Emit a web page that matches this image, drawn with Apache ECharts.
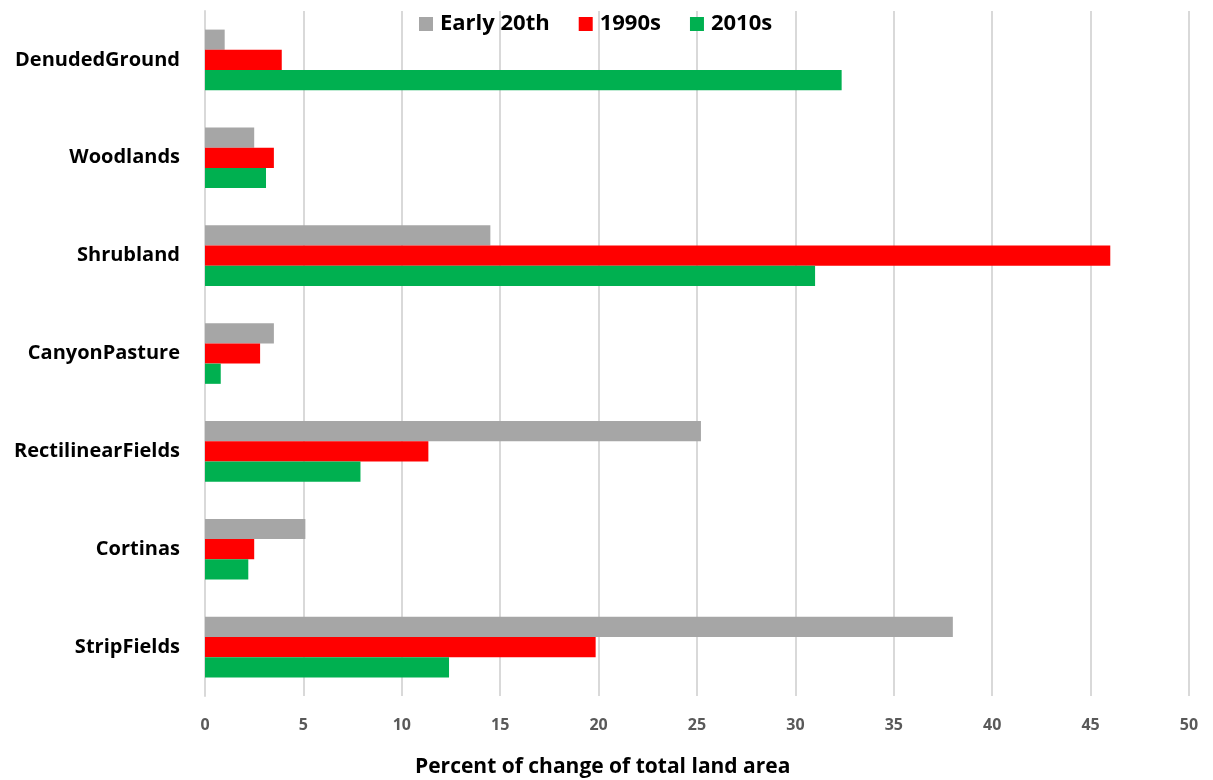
<!DOCTYPE html>
<html>
<head>
<meta charset="utf-8">
<script src="https://cdn.jsdelivr.net/npm/echarts@6/dist/echarts.min.js"></script>
<style>
  html, body { margin: 0; padding: 0; background: #fff; }
  #chart { width: 1213px; height: 780px; }
</style>
</head>
<body>
<div id="chart"></div>
<script>
// Land-cover classes, listed top to bottom
const categories = ['DenudedGround', 'Woodlands', 'Shrubland', 'CanyonPasture', 'RectilinearFields', 'Cortinas', 'StripFields'];
const early20th = [1.0, 2.5, 14.5, 3.5, 25.2, 5.1, 38.0];
const s1990s   = [3.9, 3.5, 46.0, 2.8, 11.35, 2.5, 19.85];
const s2010s   = [32.35, 3.1, 31.0, 0.8, 7.9, 2.2, 12.4];
const xTicks = [0, 5, 10, 15, 20, 25, 30, 35, 40, 45, 50];
const xTitle = 'Percent of change of total land area';

const font = '"Open Sans", Lato, sans-serif';

const chart = echarts.init(document.getElementById('chart'), null, { renderer: 'canvas' });

function barSeries(name, data, color) {
  return {
    name: name,
    type: 'bar',
    data: data,
    barGap: '0%',
    barCategoryGap: '38%',
    itemStyle: { color: color },
    emphasis: { disabled: true }
  };
}

chart.setOption({
  animation: false,
  backgroundColor: '#ffffff',
  textStyle: { fontFamily: font },
  title: {
    text: xTitle,
    left: 410,
    bottom: -3,
    textStyle: { fontFamily: font, fontWeight: 'bold', fontSize: 21, color: '#000' }
  },
  legend: {
    top: 8,
    left: 414,
    itemWidth: 14,
    itemHeight: 14,
    itemGap: 29,
    icon: 'rect',
    textStyle: { fontFamily: font, fontWeight: 'bold', fontSize: 22, color: '#000', padding: [0, 0, 0, 2] },
    data: ['Early 20th', '1990s', '2010s']
  },
  grid: { left: 205, right: 24, top: 11, bottom: 84, containLabel: false, outerBoundsMode: 'none' },
  xAxis: {
    type: 'value',
    min: xTicks[0],
    max: xTicks[xTicks.length - 1],
    interval: 5,
    axisLine: { show: false },
    axisTick: { show: false },
    axisLabel: { margin: 21, fontFamily: font, fontWeight: 'bold', fontSize: 16, color: '#595959' },
    splitLine: { show: true, lineStyle: { color: '#d9d9d9', width: 2 } }
  },
  yAxis: {
    type: 'category',
    inverse: true,
    data: categories,
    axisLine: { show: true, lineStyle: { color: '#d9d9d9', width: 2 } },
    axisTick: { show: false },
    axisLabel: { margin: 25, fontFamily: font, fontWeight: 'bold', fontSize: 20, color: '#000' }
  },
  series: [
    barSeries('Early 20th', early20th, '#a6a6a6'),
    barSeries('1990s', s1990s, '#ff0000'),
    barSeries('2010s', s2010s, '#00b050')
  ]
});
</script>
</body>
</html>
